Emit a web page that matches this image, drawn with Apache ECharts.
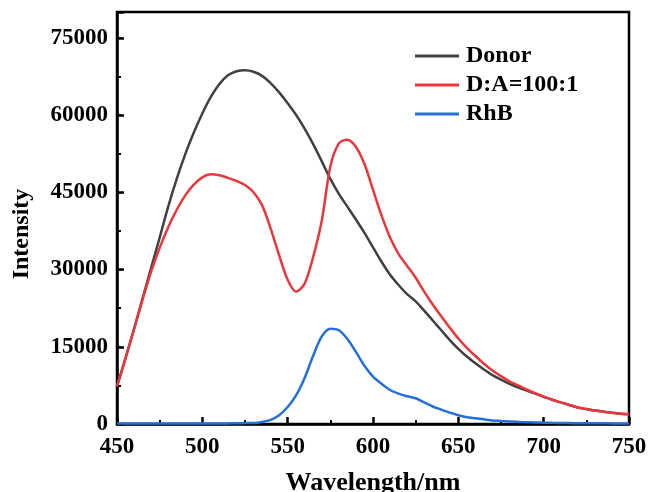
<!DOCTYPE html>
<html>
<head>
<meta charset="utf-8">
<script src="https://cdn.jsdelivr.net/npm/echarts@6/dist/echarts.min.js"></script>
<style>html,body{margin:0;padding:0;background:#fff}#c{width:649px;height:492px}</style>
</head>
<body>
<div id="c"></div>
<script>
const wavelength = [450,455,460,465,470,475,480,485,490,495,500,505,510,515,520,525,530,535,540,545,550,555,560,565,570,575,580,585,590,595,600,605,610,615,620,625,630,635,640,645,650,655,660,665,670,675,680,685,690,695,700,705,710,715,720,725,730,735,740,745,750];
const donor = [7300,12800,18500,24400,30300,36200,42200,47600,52400,56600,60300,63500,66000,67700,68500,68700,68400,67600,66200,64400,62300,60000,57300,54300,51000,47600,44700,42200,39700,37100,34300,31500,29000,27000,25200,23800,22000,20100,18200,16300,14600,13100,11800,10600,9500,8600,7800,7100,6500,5900,5300,4700,4200,3700,3200,2900,2600,2400,2200,2000,1900];
const daRatio = [7300,12800,18400,24200,29600,34200,38200,41600,44400,46500,47900,48500,48300,47800,47200,46400,45000,42500,38000,32800,28000,25700,27300,32500,39500,50000,54500,55200,53800,50500,45500,40500,36200,33000,30700,28400,25700,23200,20900,18700,16600,14800,13200,11700,10400,9300,8300,7500,6700,6000,5300,4700,4200,3700,3200,2900,2600,2400,2200,2000,1900];
const rhb = [100,100,100,100,100,100,100,100,100,100,100,100,100,120,150,180,200,400,800,1700,3300,5600,9000,13300,17000,18500,18200,16500,14000,11300,9200,7800,6600,5900,5400,5000,4200,3400,2800,2200,1700,1300,1100,900,700,600,500,400,350,300,250,220,200,180,160,150,140,130,120,110,100];
const seriesNames = ['Donor','D:A=100:1','RhB'];
const seriesColors = ['#404040','#e8383d','#2570d6'];
const xTicks = [450,500,550,600,650,700,750];
const yTicks = [0,15000,30000,45000,60000,75000];

const pairs = arr => wavelength.map((w,i)=>[w,arr[i]]);
const font = '"Liberation Serif","Times New Roman",serif';
const chart = echarts.init(document.getElementById('c'));
chart.setOption({
  animation:false,
  grid:{left:117,right:20,top:12,bottom:68,outerBoundsMode:'none',containLabel:false,show:true,borderColor:'#000',borderWidth:2.5,backgroundColor:'transparent'},
  legend:{
    orient:'vertical',left:410,top:39,itemWidth:44,itemHeight:3,itemGap:5,icon:'rect',
    textStyle:{fontFamily:font,fontWeight:'bold',fontSize:24,color:'#000',lineHeight:24,padding:[0,0,0,2]},
    data:seriesNames
  },
  xAxis:{
    type:'value',min:xTicks[0],max:xTicks[xTicks.length-1],interval:50,
    name:'Wavelength/nm',nameLocation:'middle',nameGap:46,
    nameTextStyle:{fontFamily:font,fontWeight:'bold',fontSize:26,color:'#000'},
    axisLine:{show:true,lineStyle:{color:'#000',width:2.5}},
    axisTick:{show:true,inside:true,length:7,lineStyle:{color:'#000',width:2.5}},
    minorTick:{show:true,splitNumber:2,length:4,lineStyle:{color:'#000',width:2}},
    splitLine:{show:false},minorSplitLine:{show:false},
    axisLabel:{fontFamily:font,fontWeight:'bold',fontSize:23,color:'#000',margin:12}
  },
  yAxis:[{
    type:'value',min:0,max:80000,interval:15000,
    name:'Intensity',nameLocation:'middle',nameGap:83,nameRotate:90,
    nameTextStyle:{fontFamily:font,fontWeight:'bold',fontSize:24,color:'#000',padding:[0,32,0,0]},
    axisLine:{show:true,lineStyle:{color:'#000',width:2.5}},
    axisTick:{show:true,inside:true,length:7,lineStyle:{color:'#000',width:2.5}},
    splitLine:{show:false},
    axisLabel:{fontFamily:font,fontWeight:'bold',fontSize:23,color:'#000',margin:9,
      formatter:v=>yTicks.includes(v)?String(v):''}
  },{
    type:'value',min:0,max:80000,interval:7500,position:'left',
    axisLine:{show:false},
    axisTick:{show:true,inside:true,length:4,lineStyle:{color:'#000',width:2}},
    axisLabel:{show:false},splitLine:{show:false}
  }],
  series:[donor,daRatio,rhb].map((arr,i)=>({
    name:seriesNames[i],type:'line',data:pairs(arr),smooth:0.3,showSymbol:false,symbol:'none',
    lineStyle:{color:seriesColors[i],width:2.5},itemStyle:{color:seriesColors[i]},
    z:[2,3,4][i]
  }))
});
</script>
</body>
</html>
